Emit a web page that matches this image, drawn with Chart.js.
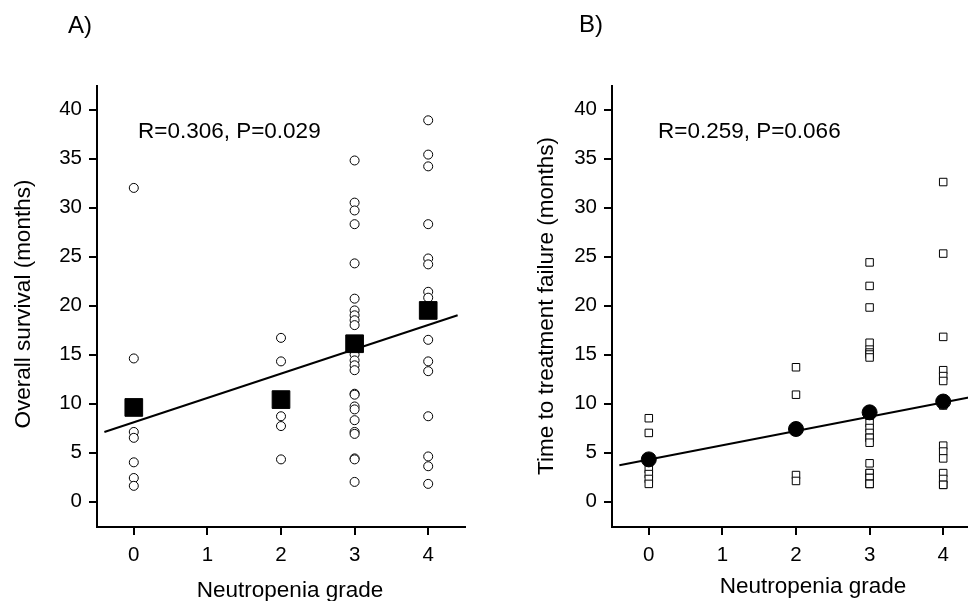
<!DOCTYPE html>
<html lang="en">
<head>
  <meta charset="UTF-8">
  <title>Neutropenia grade vs survival</title>
  <script src="https://cdn.jsdelivr.net/npm/chart.js"></script>
  <style>
    html, body { margin: 0; padding: 0; background: #fff; overflow: hidden; }
    .panel { position: absolute; top: 0; height: 601px; }
    #panelA { left: 0; width: 484px; }
    #panelB { left: 484px; width: 520px; }
  </style>
</head>
<body>
<div class="panel" id="panelA"><canvas id="chartA" width="484" height="601"></canvas></div>
<div class="panel" id="panelB"><canvas id="chartB" width="520" height="601"></canvas></div>

<script>
  // grades on the x axis and tick values
  const grades = [0, 2, 3, 4];
  const xTicks = [0, 1, 2, 3, 4];
  const yTicks = [0, 5, 10, 15, 20, 25, 30, 35, 40];

  // A) overall survival (months), one array per grade
  const osG0 = [32.0, 14.6, 7.1, 6.5, 4.0, 2.4, 1.6];
  const osG2 = [16.7, 14.3, 8.7, 7.7, 4.3];
  const osG3 = [34.8, 30.5, 29.7, 28.3, 24.3, 20.7, 19.5, 19.0, 18.5, 18.0, 15.0, 14.4,
                13.9, 13.4, 11.0, 10.9, 9.7, 9.4, 8.3, 7.1, 6.9, 4.4, 4.3, 2.0];
  const osG4 = [38.9, 35.4, 34.2, 28.3, 24.8, 24.2, 21.4, 20.8, 16.5, 14.3, 13.3, 8.7, 4.6, 3.6, 1.8];
  const osMeans = [9.6, 10.4, 16.1, 19.5];
  const fitX = [-0.4, 4.4];
  const osFit = [7.1, 19.0];

  // B) time to treatment failure (months)
  const ttfG0 = [8.5, 7.0, 4.3, 3.3, 2.8, 2.3, 1.8];
  const ttfG2 = [13.7, 10.9, 7.5, 2.7, 2.1];
  const ttfG3 = [24.4, 22.0, 19.8, 16.2, 15.5, 15.2, 15.0, 14.7, 9.0, 8.7, 8.0, 7.5,
                 7.0, 6.5, 6.5, 6.0, 3.9, 2.9, 2.9, 2.4, 2.4, 1.8, 1.8, 1.8];
  const ttfG4 = [32.6, 25.3, 16.8, 13.4, 12.8, 12.3, 10.0, 9.8, 5.7, 5.1, 4.4, 2.9, 2.3, 1.7, 1.7];
  const ttfMeans = [4.3, 7.4, 9.1, 10.2];
  const ttfFit = [3.7, 10.7];

  const FONT = "'Liberation Sans', Arial, sans-serif";

  function toPoints(groups) {
    const pts = [];
    groups.forEach((vals, i) => vals.forEach(v => pts.push({ x: grades[i], y: v })));
    return pts;
  }

  // free text: panel letter, statistics, axis titles
  const panelText = {
    id: 'panelText',
    afterDraw(chart, args, opts) {
      const ctx = chart.ctx;
      opts.items.forEach(t => {
        ctx.save();
        ctx.font = t.font;
        ctx.fillStyle = '#000';
        ctx.textAlign = t.align || 'left';
        ctx.textBaseline = 'alphabetic';
        ctx.translate(t.x, t.y);
        if (t.rotate) ctx.rotate(t.rotate);
        ctx.fillText(t.text, 0, 0);
        ctx.restore();
      });
    }
  };

  function makeChart(id, cfg) {
    return new Chart(document.getElementById(id), {
      type: 'scatter',
      data: {
        datasets: [
          {
            data: cfg.means.map((v, i) => ({ x: grades[i], y: v })),
            pointStyle: cfg.meanStyle,
            pointRadius: cfg.meanRadius,
            backgroundColor: '#000',
            borderColor: '#000',
            borderWidth: 1
          },
          {
            data: fitX.map((x, i) => ({ x: x, y: cfg.fit[i] })),
            showLine: true,
            pointRadius: 0,
            borderColor: '#000',
            borderWidth: 2
          },
          {
            data: toPoints(cfg.groups),
            pointStyle: cfg.pointStyle,
            pointRadius: cfg.pointRadius,
            backgroundColor: '#fff',
            borderColor: '#000',
            borderWidth: 1
          }
        ]
      },
      options: {
        responsive: false,
        animation: false,
        events: [],
        layout: { padding: { top: 86, right: cfg.padRight, bottom: 0, left: 0 } },
        plugins: {
          legend: { display: false },
          tooltip: { enabled: false },
          panelText: { items: cfg.texts }
        },
        scales: {
          x: {
            type: 'linear',
            min: -0.5,
            max: 4.5,
            afterBuildTicks: s => { s.ticks = xTicks.map(v => ({ value: v })); },
            afterFit: s => { s.height = 74; },
            grid: { display: true, drawOnChartArea: false, drawTicks: true, tickLength: 8, color: '#000', lineWidth: 2 },
            border: { display: true, color: '#000', width: 2 },
            ticks: { color: '#000', padding: 8, maxRotation: 0, font: { family: FONT, size: 20.5 } }
          },
          y: {
            type: 'linear',
            min: -2.6,
            max: 42.4,
            afterBuildTicks: s => { s.ticks = yTicks.map(v => ({ value: v })); },
            afterFit: s => { s.width = cfg.axisLeft; },
            grid: { display: true, drawOnChartArea: false, drawTicks: true, tickLength: 8, color: '#000', lineWidth: 2 },
            border: { display: true, color: '#000', width: 2 },
            ticks: { color: '#000', padding: 7, font: { family: FONT, size: 20.5 } }
          }
        }
      },
      plugins: [panelText]
    });
  }

  makeChart('chartA', {
    groups: [osG0, osG2, osG3, osG4],
    means: osMeans,
    fit: osFit,
    pointStyle: 'circle',
    pointRadius: 4.5,
    meanStyle: 'rect',
    meanRadius: 12.5,
    axisLeft: 97,
    padRight: 19,
    texts: [
      { text: 'A)', x: 68, y: 33, font: '24px ' + FONT },
      { text: 'R=0.306, P=0.029', x: 138, y: 138, font: '22.5px ' + FONT },
      { text: 'Neutropenia grade', x: 290, y: 597, align: 'center', font: '22.5px ' + FONT },
      { text: 'Overall survival (months)', x: 30, y: 304, align: 'center', rotate: -Math.PI / 2, font: '22.5px ' + FONT }
    ]
  });

  makeChart('chartB', {
    groups: [ttfG0, ttfG2, ttfG3, ttfG4],
    means: ttfMeans,
    fit: ttfFit,
    pointStyle: 'rect',
    pointRadius: 5.3,
    meanStyle: 'circle',
    meanRadius: 7.5,
    axisLeft: 128,
    padRight: 24,
    texts: [
      { text: 'B)', x: 95, y: 32, font: '24px ' + FONT },
      { text: 'R=0.259, P=0.066', x: 174, y: 138, font: '22.5px ' + FONT },
      { text: 'Neutropenia grade', x: 329, y: 593, align: 'center', font: '22.5px ' + FONT },
      { text: 'Time to treatment failure (months)', x: 69, y: 306, align: 'center', rotate: -Math.PI / 2, font: '22.5px ' + FONT }
    ]
  });
</script>
</body>
</html>
